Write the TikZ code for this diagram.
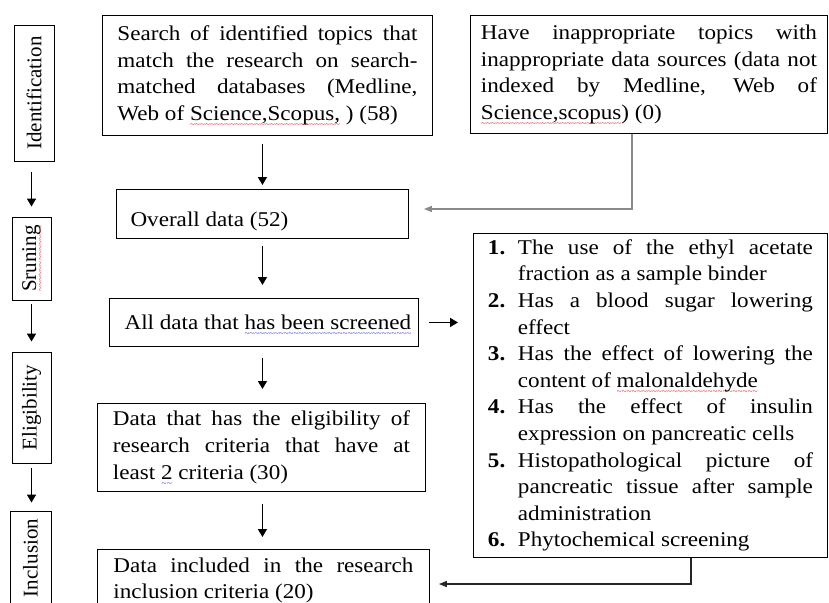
\documentclass[tikz,border=0pt]{standalone}
\usepackage{fontspec}
\setmainfont{Liberation Serif}[FakeStretch=1.1]
\newfontfamily\stagefont{Liberation Serif}
\usetikzlibrary{arrows.meta}
\definecolor{wavered}{HTML}{E8202A}
\definecolor{waveblue}{HTML}{3A3AF0}
\definecolor{linkgray}{HTML}{8A8A8A}
\newcommand\wavy[2]{\setbox0\hbox{#2}\rlap{\raisebox{-7pt}[0pt][0pt]{\color{#1}\hbox to \wd0{\stagefont\fontsize{9}{9}\selectfont\xleaders\hbox{\char126}\hfill}}}\box0\relax}
\newcommand\critem[2]{\noindent\hangindent=30pt\hangafter=1\makebox[30pt][l]{\textbf{#1.}}#2\par}
\begin{document}
\begin{tikzpicture}[x=1pt,y=-1pt,
  box/.style={draw, line width=0.9pt, inner sep=0pt, anchor=north west},
  para/.style={box, align=justify, font=\fontsize{21}{26.7}\selectfont},
  stage/.style={draw, line width=0.9pt, rotate=90, inner sep=0pt, font=\stagefont\fontsize{21}{24}\selectfont},
  arr/.style={line width=1.6pt, -{Triangle[width=9pt,length=8pt]}},
  link/.style={line width=1.4pt, -{Triangle[width=6pt,length=8pt]}}]
\useasboundingbox (0,0) rectangle (829,602);
\fill[white] (0,0) rectangle (829,602);

% stage labels
\node[stage, minimum width=136pt, minimum height=40pt] (ident) at (34,93) {Identification};
\node[stage, minimum width=83pt, minimum height=39pt] (srun) at (31.5,258.5) {\wavy{wavered}{Sruning}};
\node[stage, minimum width=111pt, minimum height=39pt] (eligst) at (31.5,407.5) {Eligibility};
\node[stage, minimum width=94pt, minimum height=41pt] (inclst) at (30.5,558) {Inclusion};

\draw[arr, shorten <=11pt, shorten >=10pt] (ident.west -| srun) -- (srun.east);
\draw[arr, shorten <=4pt, shorten >=10pt] (srun.west) -- (eligst.east);
\draw[arr, shorten <=5pt, shorten >=8pt] (eligst.west) -- (inclst.east -| eligst);

% main boxes
\node[para, minimum width=330pt, minimum height=120pt, text width=300pt] (search) at (102,15)
 {Search of identified topics that\linebreak match the research on search-\linebreak matched databases (Medline,\linebreak Web of \wavy{wavered}{Science,Scopus,} ) (58)};

\node[para, minimum width=357pt, minimum height=118pt, text width=336pt] (avoid) at (470,15)
 {Have inappropriate topics with\linebreak inappropriate data sources (data not\linebreak indexed by Medline, Web of\linebreak \wavy{wavered}{Science,scopus}) (0)};

\node[box, minimum width=292pt, minimum height=49pt, font=\fontsize{21}{26.7}\selectfont] (overall) at (116,189)
 {\raisebox{-13pt}[0pt][0pt]{\hspace*{-106pt}Overall data (52)}};

\node[box, minimum width=309pt, minimum height=48pt, font=\fontsize{21}{26.7}\selectfont] (screened) at (109,298)
 {\hspace*{8pt}All data that \wavy{waveblue}{has been screened}};

\node[para, minimum width=328pt, minimum height=88pt, text width=297pt] (elig) at (97,403)
 {Data that has the eligibility of\linebreak research criteria that have at\linebreak least \wavy{waveblue}{2} criteria (30)};

\node[para, minimum width=332pt, minimum height=62pt, text width=300pt] (incl) at (97,549)
 {Data included in the research\linebreak inclusion criteria (20)};

\node[box, minimum width=354pt, minimum height=324pt, text width=325pt, align=justify,
      font=\fontsize{21}{26.6}\selectfont] (crit) at (473,233)
 {\critem{1}{The use of the ethyl acetate\linebreak fraction as a sample binder}
  \critem{2}{Has a blood sugar lowering\linebreak effect}
  \critem{3}{Has the effect of lowering the\linebreak content of \wavy{wavered}{malonaldehyde}}
  \critem{4}{Has the effect of insulin\linebreak expression on pancreatic cells}
  \critem{5}{Histopathological picture of\linebreak pancreatic tissue after sample\linebreak administration}
  \critem{6}{Phytochemical screening}};

% main flow arrows
\draw[arr, shorten <=8pt, shorten >=4pt] (search.south -| overall) -- (overall.north);
\draw[arr, shorten <=7pt, shorten >=13pt] (overall.south) -- (screened.north -| overall);
\draw[arr, shorten <=11pt, shorten >=14pt] (screened.south -| overall) -- (elig.north -| overall);
\draw[arr, shorten <=12pt, shorten >=12pt] (elig.south -| overall) -- (incl.north -| overall);
\draw[arr, shorten <=10pt, shorten >=15pt] (screened.east) -- (crit.west |- screened.east);

% side connectors
\coordinate (c1) at (632,209);
\draw[link, linkgray, shorten >=15pt] (avoid.south -| c1) -- (c1) -- (overall.east |- c1);
\coordinate (c2) at (691,584);
\draw[link, black!85, line width=1.2pt, shorten >=9pt] (crit.south -| c2) -- (c2) -- (incl.east |- c2);
\end{tikzpicture}
\end{document}
